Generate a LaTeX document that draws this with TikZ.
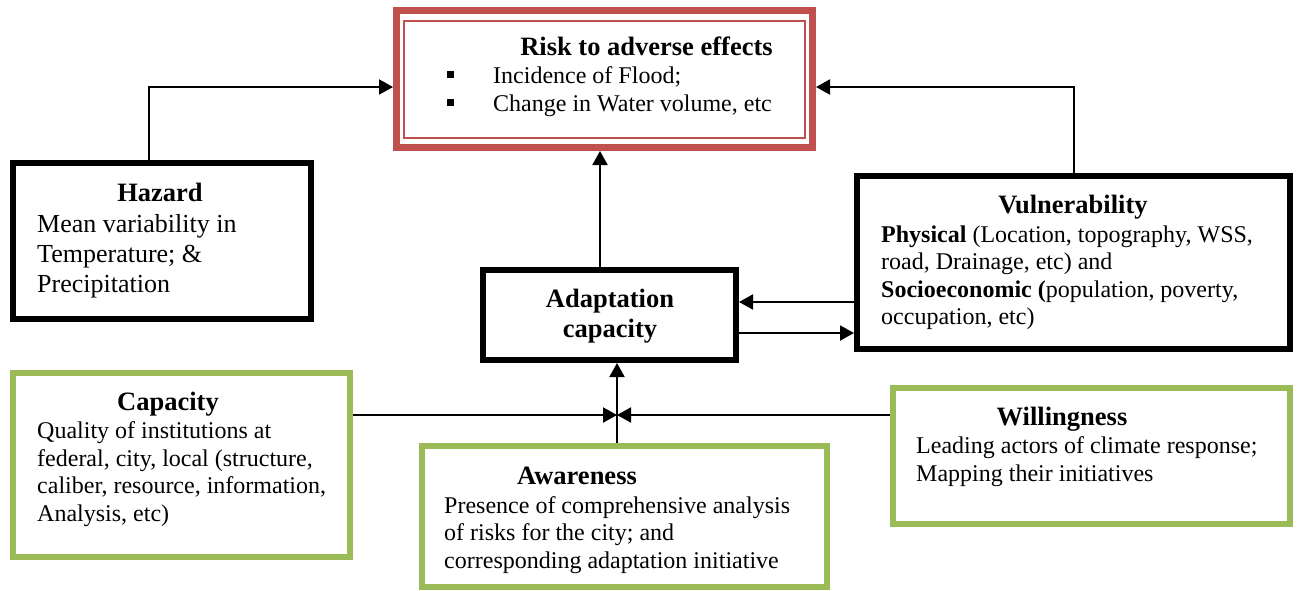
\documentclass[tikz,border=0pt]{standalone}
\usepackage{fontspec}
\setmainfont{Liberation Serif}
\usetikzlibrary{arrows.meta}
\definecolor{riskred}{HTML}{C0504D}
\definecolor{boxgreen}{HTML}{9BBB59}
\begin{document}
\begin{tikzpicture}[x=1pt,y=-1pt,
  blackbox/.style={draw=black,line width=6pt,rectangle,inner sep=0pt},
  greenbox/.style={draw=boxgreen,line width=6pt,rectangle,inner sep=0pt},
  conn/.style={line width=2pt,-{Triangle[length=14pt,width=15pt]}},
  ttl/.style={font=\fontsize{26.5}{30}\selectfont\bfseries,anchor=base,inner sep=0pt},
  body/.style={font=\fontsize{24}{28}\selectfont,anchor=base west,inner sep=0pt},
  bigbody/.style={font=\fontsize{26}{30}\selectfont,anchor=base west,inner sep=0pt},
  bullet/.style={fill=black,minimum size=7pt,inner sep=0pt,rectangle}
]
\useasboundingbox (0,0) rectangle (1298,590);
\fill[white] (0,0) rectangle (1298,590);

% ---------- boxes ----------
\node[draw=riskred,line width=7pt,rectangle,inner sep=0pt,minimum width=416pt,minimum height=137pt] (risk) at (604.5,79) {};
\node[draw=riskred,line width=2.5pt,rectangle,inner sep=0pt,minimum width=401pt,minimum height=117pt] (riskin) at (604.5,79.5) {};
\node[blackbox,minimum width=298pt,minimum height=156pt] (hazard) at (162,241) {};
\node[blackbox,minimum width=433pt,minimum height=173pt] (vul) at (1073.5,262.5) {};
\node[blackbox,minimum width=253pt,minimum height=90pt] (adapt) at (609.5,315) {};
\node[greenbox,minimum width=337pt,minimum height=184pt] (cap) at (181.5,465) {};
\node[greenbox,minimum width=397pt,minimum height=136pt] (will) at (1091.5,456) {};
\node[greenbox,minimum width=405pt,minimum height=141pt] (aware) at (624.5,516.5) {};

% ---------- texts ----------
\node[ttl] (risktitle) at (646.5,55) {Risk to adverse effects};
\node[bullet] (b1) at (450,74) {};
\node[bullet] (b2) at (450,102) {};
\node[body] (r1) at (493,83) {Incidence of Flood;};
\node[body] (r2) at (493,111) {Change in Water volume, etc};

\node[ttl] (haztitle) at (160,201) {Hazard};
\node[bigbody] (h1) at (37,232) {Mean variability in};
\node[bigbody] (h2) at (37,262) {Temperature; \&};
\node[bigbody] (h3) at (37,292) {Precipitation};

\node[ttl] (vultitle) at (1073,213) {Vulnerability};
\node[body] (v1) at (881,242) {\textbf{Physical} (Location, topography, WSS,};
\node[body] (v2) at (881,269) {road, Drainage, etc) and};
\node[body] (v3) at (881,297) {\textbf{Socioeconomic (}population, poverty,};
\node[body] (v4) at (881,324) {occupation, etc)};

\node[ttl] (ad1) at (610,307) {Adaptation};
\node[ttl] (ad2) at (610,337) {capacity};

\node[ttl] (captitle) at (168,410) {Capacity};
\node[body] (c1) at (37,438) {Quality of institutions at};
\node[body] (c2) at (37,466) {federal, city, local (structure,};
\node[body] (c3) at (37,493) {caliber, resource, information,};
\node[body] (c4) at (37,521) {Analysis, etc)};

\node[ttl] (awtitle) at (577,484) {Awareness};
\node[body] (a1) at (444,513) {Presence of comprehensive analysis};
\node[body] (a2) at (444,540) {of risks for the city; and};
\node[body] (a3) at (444,568) {corresponding adaptation initiative};

\node[ttl] (wtitle) at (1062,425) {Willingness};
\node[body] (w1) at (916,453) {Leading actors of climate response;};
\node[body] (w2) at (916,481) {Mapping their initiatives};

% ---------- connectors ----------
\draw[conn] ([xshift=-13pt]hazard.north) |- ([yshift=-8pt]risk.west);
\draw[conn] ([xshift=0.5pt]vul.north) |- ([yshift=-8pt]risk.east);
\draw[conn] ([xshift=-9.5pt]adapt.north) -- ([xshift=-9.5pt]adapt.north |- risk.south);
\draw[conn] ([yshift=-39.5pt]vul.west) -- ([yshift=-39.5pt]vul.west -| adapt.east);
\draw[conn] ([yshift=-18pt]adapt.east) -- ([yshift=-18pt]adapt.east -| vul.west);
\coordinate (j) at (617,415);
\draw[conn] (cap.east |- j) -- (j);
\draw[conn] (will.west |- j) -- (j);
\draw[conn] (aware.north -| j) -- (j |- adapt.south);
\end{tikzpicture}
\end{document}
